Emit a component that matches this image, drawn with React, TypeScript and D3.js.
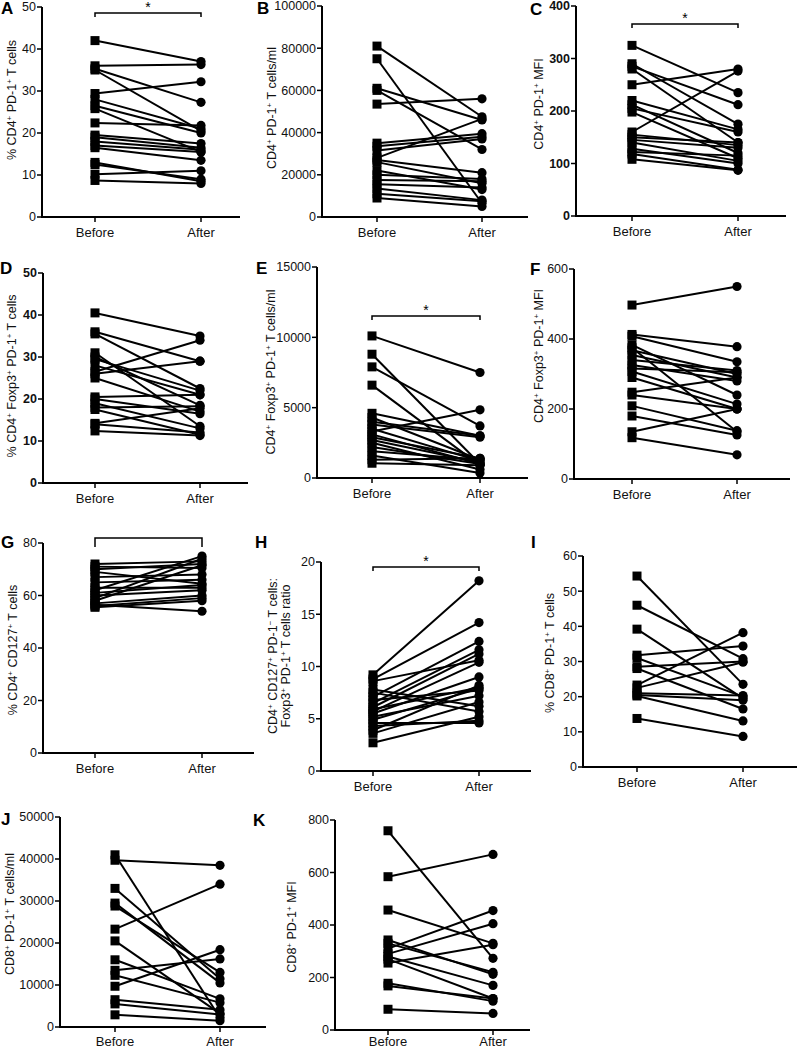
import React from "react";
import * as d3 from "d3";

const FONT = "'Liberation Sans', Arial, Helvetica, sans-serif";
const groups = ["Before", "After"];

// ---- data ----
const aBefore = [42, 36, 35.3, 35, 29.4, 28, 26.5, 25.8, 22.4, 19.5, 19, 18, 17, 16.5, 13, 12.5, 10.2, 8.7];
const aAfter = [37, 36.3, 27.3, 20.5, 32.2, 21, 20, 15.5, 21.8, 17.5, 16.5, 16, 15.5, 13.5, 8.5, 9, 11, 8];
const aTicks = [0, 10, 20, 30, 40, 50];

const bBefore = [81000, 75000, 61000, 60000, 53500, 35000, 33500, 31500, 28000, 27000, 26000, 22000, 20000, 17500, 15500, 13500, 11000, 9000];
const bAfter = [47500, 6500, 46000, 32000, 56000, 39500, 38000, 37000, 46500, 21000, 16000, 13000, 18000, 17000, 14000, 8000, 7500, 5000];
const bTicks = [0, 20000, 40000, 60000, 80000, 100000];

const cBefore = [325, 290, 285, 280, 250, 220, 212, 205, 198, 160, 155, 150, 145, 140, 128, 122, 118, 108];
const cAfter = [235, 175, 212, 140, 280, 165, 120, 160, 110, 276, 135, 140, 130, 105, 100, 115, 88, 87];
const cTicks = [0, 100, 200, 300, 400];

const dBefore = [40.5, 36, 35.5, 31, 30, 29.5, 28, 26.5, 26, 25, 20.5, 20, 19, 18, 17.5, 14.2, 14, 12.4];
const dAfter = [35, 29, 22.5, 13.5, 18.5, 22, 21, 34, 29, 17, 21, 16.5, 13, 18.3, 11.5, 17.8, 12, 11.3];
const dTicks = [0, 10, 20, 30, 40, 50];

const eBefore = [10100, 8800, 7900, 6600, 4600, 4300, 4000, 3800, 3500, 3300, 3100, 2900, 2700, 2500, 2200, 1900, 1600, 1300, 1050];
const eAfter = [7500, 1000, 3700, 900, 3000, 1300, 3000, 2900, 1200, 4850, 1000, 1400, 1100, 600, 1000, 1300, 350, 1400, 900];
const eTicks = [0, 5000, 10000, 15000];

const fBefore = [497, 413, 408, 383, 375, 368, 354, 340, 326, 316, 307, 290, 248, 240, 209, 180, 135, 118];
const fAfter = [550, 378, 335, 240, 135, 300, 290, 310, 280, 305, 214, 200, 290, 200, 138, 126, 200, 69];
const fTicks = [0, 200, 400, 600];

const gBefore = [72, 71, 70, 69, 67, 65, 63, 62, 61, 60, 59, 58, 57, 56, 55.5, 56.5];
const gAfter = [73, 70.5, 72, 64.5, 68, 66, 63, 75, 64, 62, 74, 71.5, 60, 59, 58, 54];
const gTicks = [0, 20, 40, 60, 80];

const hBefore = [9.2, 8.8, 8.6, 7.8, 7.5, 7.1, 6.8, 6.5, 6.1, 5.9, 5.7, 5.5, 5.2, 4.9, 4.6, 4.3, 3.9, 3.6, 2.7];
const hAfter = [18.2, 14.2, 10.6, 6.2, 5.7, 12.4, 7.7, 11.6, 11.2, 8.0, 10.4, 9.0, 7.2, 7.9, 4.6, 4.8, 8.2, 6.6, 5.2];
const hTicks = [0, 5, 10, 15, 20];

const iBefore = [54.3, 46, 39.2, 31.8, 31, 28.5, 28, 23.3, 22.5, 21, 20.5, 20.2, 13.8];
const iAfter = [23.5, 30.8, 19.5, 34.4, 20, 30, 16.5, 38.2, 29.8, 20.3, 19, 13.1, 8.7];
const iTicks = [0, 10, 20, 30, 40, 50, 60];

const jBefore = [41000, 39700, 33000, 29500, 28800, 23300, 20500, 16000, 13500, 12300, 9700, 6500, 5500, 2900];
const jAfter = [2200, 38500, 11500, 10500, 13000, 34000, 3200, 6700, 16200, 5800, 18400, 4100, 3000, 1500];
const jTicks = [0, 10000, 20000, 30000, 40000, 50000];

const kBefore = [759, 584, 457, 343, 330, 310, 290, 280, 270, 255, 178, 168, 79];
const kAfter = [273, 669, 330, 212, 220, 455, 405, 170, 120, 325, 110, 120, 63];
const kTicks = [0, 200, 400, 600, 800];

type Cfg = {
  letter: string; lx: number; ly: number;
  before: number[]; after: number[]; ticks: number[];
  axisX: number; yTop: number; yBot: number; bx: number; ax: number; xEnd: number;
  labelY?: number;
  bold?: boolean;
  title: string[]; tx: number[]; ty: number;
  bracket?: { y: number; star: boolean; drop: number };
};

const panels: Cfg[] = [
  { letter: "A", lx: 1, ly: 14, before: aBefore, after: aAfter, ticks: aTicks, axisX: 42, yTop: 7, yBot: 217, bx: 95, ax: 201, xEnd: 240,
    title: ["% CD4^+ PD-1^+ T cells"], tx: [16], ty: 100, bracket: { y: 13, star: true, drop: 4 } },
  { letter: "B", lx: 257, ly: 14, before: bBefore, after: bAfter, ticks: bTicks, axisX: 322, yTop: 6, yBot: 217, bx: 377, ax: 482, xEnd: 528,
    title: ["CD4^+ PD-1^+ T cells/ml"], tx: [276], ty: 108 },
  { letter: "C", lx: 530, ly: 15, before: cBefore, after: cAfter, ticks: cTicks, axisX: 576, yTop: 6, yBot: 216, bx: 632, ax: 738, xEnd: 786, bold: true,
    title: ["CD4^+ PD-1^+ MFI"], tx: [543], ty: 104, bracket: { y: 24, star: true, drop: 4 } },
  { letter: "D", lx: 0, ly: 274, before: dBefore, after: dAfter, ticks: dTicks, axisX: 43, yTop: 273, yBot: 483, bx: 95, ax: 200, xEnd: 248, bold: true,
    title: ["% CD4^+ Foxp3^+ PD-1^+ T cells"], tx: [16], ty: 376 },
  { letter: "E", lx: 256, ly: 274, before: eBefore, after: eAfter, ticks: eTicks, axisX: 317, yTop: 267, yBot: 478, bx: 372, ax: 480, xEnd: 528,
    title: ["CD4^+ Foxp3^+ PD-1^+ T cells/ml"], tx: [275], ty: 372, bracket: { y: 316, star: true, drop: 4 } },
  { letter: "F", lx: 530, ly: 275, before: fBefore, after: fAfter, ticks: fTicks, axisX: 574, yTop: 269, yBot: 479, bx: 632, ax: 737, xEnd: 790,
    title: ["CD4^+ Foxp3^+ PD-1^+ MFI"], tx: [543], ty: 356 },
  { letter: "G", lx: 1, ly: 548, before: gBefore, after: gAfter, ticks: gTicks, axisX: 43, yTop: 543, yBot: 753, bx: 95, ax: 202, xEnd: 254,
    title: ["% CD4^+ CD127^+ T cells"], tx: [17], ty: 650, bracket: { y: 538, star: false, drop: 9 } },
  { letter: "H", lx: 255, ly: 548, before: hBefore, after: hAfter, ticks: hTicks, axisX: 321, yTop: 562, yBot: 771, bx: 373, ax: 479, xEnd: 531,
    title: ["CD4^+ CD127^+ PD-1^− T cells:", "Foxp3^+ PD-1^+ T cells ratio"], tx: [277, 290], ty: 656, bracket: { y: 567, star: true, drop: 4 } },
  { letter: "I", lx: 531, ly: 548, before: iBefore, after: iAfter, ticks: iTicks, axisX: 583, yTop: 556, yBot: 767, bx: 637, ax: 743, xEnd: 797,
    title: ["% CD8^+ PD-1^+ T cells"], tx: [554], ty: 653 },
  { letter: "J", lx: 1, ly: 825, before: jBefore, after: jAfter, ticks: jTicks, axisX: 60, yTop: 817, yBot: 1027, bx: 115, ax: 220, xEnd: 266,
    labelY: 1046, title: ["CD8^+ PD-1^+ T cells/ml"], tx: [14], ty: 914 },
  { letter: "K", lx: 253, ly: 826, before: kBefore, after: kAfter, ticks: kTicks, axisX: 335, yTop: 820, yBot: 1030, bx: 388, ax: 493, xEnd: 530,
    labelY: 1046, title: ["CD8^+ PD-1^+ MFI"], tx: [296], ty: 927 },
];

function parseTitle(s: string) {
  const segs: { t: string; sup: boolean }[] = [];
  let buf = "";
  for (let i = 0; i < s.length; i++) {
    if (s[i] === "^") {
      if (buf) segs.push({ t: buf, sup: false });
      buf = "";
      segs.push({ t: s[i + 1], sup: true });
      i++;
    } else buf += s[i];
  }
  if (buf) segs.push({ t: buf, sup: false });
  return segs;
}

function Title({ text, x, y }: { text: string; x: number; y: number }) {
  const segs = parseTitle(text);
  return (
    <text transform={`translate(${x},${y}) rotate(-90)`} textAnchor="middle" fontSize={12.5} fill="#111">
      {segs.map((s, i) =>
        s.sup ? (
          <tspan key={i} fontSize={8} dy={-4.5}>{s.t}</tspan>
        ) : (
          <tspan key={i} dy={i > 0 && segs[i - 1].sup ? 4.5 : 0}>{s.t}</tspan>
        )
      )}
    </text>
  );
}

function Panel({ c }: { c: Cfg }) {
  const max = c.ticks[c.ticks.length - 1];
  const y = d3.scaleLinear().domain([0, max]).range([c.yBot, c.yTop]);
  const x = d3.scalePoint<string>().domain(groups).range([c.bx, c.ax]);
  const fmt = d3.format("d");
  const xb = x("Before")!;
  const xa = x("After")!;
  const sq = 9;
  const line = d3.line<[number, number]>();
  const labelY = c.labelY ?? y(0) + 20;
  return (
    <g>
      <text x={c.lx} y={c.ly} fontSize={17} fontWeight="bold">{c.letter}</text>
      {c.title.map((t, i) => (
        <Title key={i} text={t} x={c.tx[i]} y={c.ty} />
      ))}
      <line x1={c.axisX} x2={c.axisX} y1={y(max)} y2={y(0)} stroke="#000" strokeWidth={2} />
      <line x1={c.axisX - 1} x2={c.xEnd} y1={y(0)} y2={y(0)} stroke="#000" strokeWidth={2} />
      {c.ticks.map((t) => (
        <g key={t}>
          <line x1={c.axisX - 5} x2={c.axisX} y1={y(t)} y2={y(t)} stroke="#000" strokeWidth={1.5} />
          <text x={c.axisX - 6} y={y(t)} dy="0.35em" textAnchor="end" fontSize={12.5} fontWeight={c.bold ? "bold" : "normal"} fill="#111">
            {fmt(t)}
          </text>
        </g>
      ))}
      {groups.map((g) => (
        <g key={g}>
          <line x1={x(g)!} x2={x(g)!} y1={y(0)} y2={y(0) + 5} stroke="#000" strokeWidth={1.5} />
          <text x={x(g)!} y={labelY} textAnchor="middle" fontSize={13} fill="#111">{g}</text>
        </g>
      ))}
      {c.bracket && (
        <g>
          <path
            d={`M${xb},${c.bracket.y + c.bracket.drop}V${c.bracket.y}H${xa}V${c.bracket.y + c.bracket.drop}`}
            fill="none" stroke="#000" strokeWidth={1.5} />
          {c.bracket.star && (
            <text x={(xb + xa) / 2} y={c.bracket.y - 1} textAnchor="middle" fontSize={14} fill="#000">*</text>
          )}
        </g>
      )}
      {c.before.map((b, i) => (
        <path key={"l" + i} d={line([[xb, y(b)], [xa, y(c.after[i])]]) || ""} stroke="#000" strokeWidth={2} fill="none" />
      ))}
      {c.before.map((b, i) => (
        <rect key={"s" + i} x={xb - sq / 2} y={y(b) - sq / 2} width={sq} height={sq} fill="#000" />
      ))}
      {c.after.map((a, i) => (
        <circle key={"c" + i} cx={xa} cy={y(a)} r={4.6} fill="#000" />
      ))}
    </g>
  );
}

export default function App() {
  return (
    <svg width={797} height={1050} style={{ position: "absolute", left: 0, top: 0, background: "#fff" }} fontFamily={FONT}>
      <rect width={797} height={1050} fill="#fff" />
      {panels.map((p) => (
        <Panel key={p.letter} c={p} />
      ))}
    </svg>
  );
}
